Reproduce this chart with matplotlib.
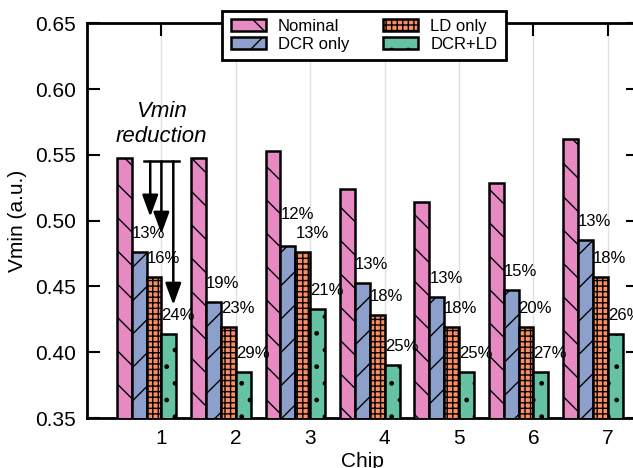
import matplotlib
matplotlib.use("Agg")
import matplotlib.pyplot as plt
import numpy as np

# ---------- Style ----------
plt.rcParams["font.family"] = ["Liberation Sans", "DejaVu Sans"]
plt.rcParams["hatch.linewidth"] = 1.0

# ---------- Data ----------
chips = [1, 2, 3, 4, 5, 6, 7]
series_names = ["Nominal", "DCR only", "LD only", "DCR+LD"]

nominal = [0.548, 0.548, 0.553, 0.524, 0.514, 0.529, 0.562]
dcr_only = [0.476, 0.438, 0.481, 0.4525, 0.442, 0.447, 0.485]
ld_only = [0.457, 0.419, 0.476, 0.428, 0.419, 0.419, 0.457]
dcr_ld = [0.414, 0.385, 0.433, 0.390, 0.385, 0.385, 0.414]

dcr_pct = ["13%", "19%", "12%", "13%", "13%", "15%", "13%"]
ld_pct = ["16%", "23%", "13%", "18%", "18%", "20%", "18%"]
dcr_ld_pct = ["24%", "29%", "21%", "25%", "25%", "27%", "26%"]

COLORS = ["#e78ac3", "#8da0cb", "#fc8d62", "#66c2a5"]
HATCHES = ["\\", "/", "+++", "."]

# ---------- Plot ----------
fig = plt.figure(figsize=(6.33, 4.68), dpi=100)
ax = fig.add_axes([0.1374, 0.1068, 0.8700, 0.8434])

x = np.array(chips, dtype=float)
width = 0.2
offsets = [-0.6, -0.4, -0.2, 0.0]
all_vals = [nominal, dcr_only, ld_only, dcr_ld]

for vals, off, col, hat, name in zip(all_vals, offsets, COLORS, HATCHES, series_names):
    ax.bar(x + off, vals, width=width, align="edge", color=col,
           edgecolor="black", linewidth=1.8, hatch=hat, label=name, zorder=3)

# percentage labels above bars (chip 3 DCR label lifted to clear its neighbour)
for s, (vals, off, labels) in enumerate(zip([dcr_only, ld_only, dcr_ld], offsets[1:],
                                            [dcr_pct, ld_pct, dcr_ld_pct])):
    for i, (xi, v, lab) in enumerate(zip(x, vals, labels)):
        dy = 0.024 if (s == 0 and i == 2) else 0.0142
        ax.text(xi + off, v + dy, lab, ha="left", va="center",
                fontsize=12, zorder=5)

# "Vmin reduction" annotation
ax.text(1.0, 0.5735, "Vmin\nreduction", ha="center", va="center",
        fontsize=16, style="italic", linespacing=1.3)
ax.plot([0.76, 1.24], [0.545, 0.545], color="black", lw=1.8, zorder=4)
for ax_x, tip in [(0.85, 0.503), (1.0, 0.490), (1.16, 0.436)]:
    ax.annotate("", xy=(ax_x, tip), xytext=(ax_x, 0.545),
                arrowprops=dict(arrowstyle="-|>,head_length=0.6,head_width=0.22",
                                color="black", lw=1.8,
                                mutation_scale=22, shrinkA=0, shrinkB=0),
                zorder=4)

ax.set_xlim(0, 7.4)
ax.set_ylim(0.35, 0.65)
ax.set_xticks(chips)
yt = [0.35, 0.40, 0.45, 0.50, 0.55, 0.60, 0.65]
ax.set_yticks(yt)
ax.set_yticklabels([f"{t:.2f}" for t in yt])
ax.tick_params(axis="both", direction="in", top=True, right=True,
               length=9, width=1.5, labelsize=15, pad=8)
ax.xaxis.grid(True, color="#e0e0e0", lw=1.0, zorder=0)
ax.set_axisbelow(True)

for spine in ax.spines.values():
    spine.set_linewidth(2)
    spine.set_color("black")

ax.set_ylabel("Vmin (a.u.)", fontsize=15, labelpad=6)
ax.set_xlabel("Chip", fontsize=15, labelpad=3)

leg = ax.legend(ncol=2, loc="upper center", bbox_to_anchor=(0.575, 0.977),
                bbox_transform=fig.transFigure, borderaxespad=0,
                fontsize=12, frameon=True, fancybox=False, framealpha=1,
                handlelength=2.1, handleheight=0.75, columnspacing=2.0,
                labelspacing=0.15, borderpad=0.5, handletextpad=0.75)
leg.get_frame().set_edgecolor("black")
leg.get_frame().set_linewidth(2)
leg.set_zorder(10)

fig.savefig("out.png", dpi=100)
